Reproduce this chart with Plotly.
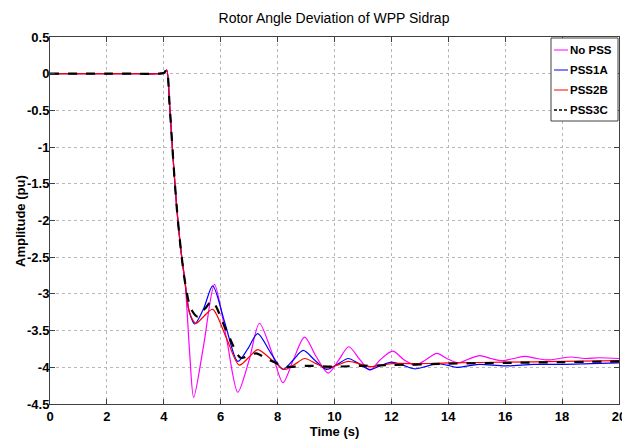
import plotly.graph_objects as go

# ---- data ----
t_nopss = [0, 1, 2, 3, 3.8, 4.0, 4.1, 4.2, 4.3, 4.45, 4.6, 4.75, 4.9, 5.05, 5.4, 5.78, 6.2, 6.6,
           7.0, 7.36, 7.8, 8.19, 8.55, 8.95, 9.35, 9.78, 10.15, 10.5, 10.9, 11.25, 11.6, 12.05,
           12.45, 12.85, 13.2, 13.6, 13.95, 14.35, 14.7, 15.1, 15.5, 15.9, 16.3, 16.7, 17.1,
           17.5, 17.9, 18.3, 18.8, 19.3, 20]
v_nopss = [0, 0, 0, 0, 0, 0.01, 0.05, -0.4, -1.0, -1.8, -2.4, -2.85, -3.75, -4.41, -3.7, -2.87,
           -3.6, -4.34, -3.9, -3.40, -3.8, -4.21, -3.9, -3.59, -3.85, -4.08, -3.9, -3.72, -3.9,
           -4.04, -3.9, -3.78, -3.9, -3.97, -3.9, -3.81, -3.88, -3.94, -3.89, -3.84, -3.88,
           -3.91, -3.88, -3.85, -3.88, -3.90, -3.88, -3.86, -3.88, -3.87, -3.88]

t_pss1a = [0, 1, 2, 3, 3.8, 4.0, 4.1, 4.2, 4.3, 4.45, 4.6, 4.75, 4.9, 5.09, 5.4, 5.72, 6.15,
           6.6, 6.95, 7.3, 7.75, 8.19, 8.55, 8.9, 9.3, 9.72, 10.1, 10.48, 10.85, 11.25, 11.6,
           12.0, 12.4, 12.8, 13.2, 13.6, 13.95, 14.3, 14.7, 15.1, 16.0, 17.0, 18.0, 19.0, 20]
v_pss1a = [0, 0, 0, 0, 0, 0.01, 0.05, -0.4, -1.0, -1.8, -2.4, -2.85, -3.25, -3.41, -3.2, -2.89,
           -3.4, -3.92, -3.75, -3.54, -3.8, -4.03, -3.9, -3.77, -3.9, -4.03, -3.96, -3.88,
           -3.95, -4.03, -3.98, -3.93, -3.97, -4.02, -3.99, -3.95, -3.97, -4.0, -3.98, -3.96,
           -3.98, -3.96, -3.96, -3.95, -3.94]

t_pss2b = [0, 1, 2, 3, 3.8, 4.0, 4.1, 4.2, 4.3, 4.45, 4.6, 4.75, 4.9, 5.13, 5.42, 5.72, 6.2,
           6.65, 7.0, 7.3, 7.8, 8.25, 8.6, 8.95, 9.35, 9.72, 10.1, 10.48, 10.85, 11.25, 12.0,
           13.0, 14.0, 16.0, 18.0, 20]
v_pss2b = [0, 0, 0, 0, 0, 0.01, 0.05, -0.4, -1.0, -1.8, -2.4, -2.85, -3.25, -3.40, -3.3, -3.21,
           -3.6, -3.97, -3.86, -3.76, -3.9, -4.03, -3.96, -3.88, -3.95, -4.01, -3.97, -3.92,
           -3.95, -3.99, -3.95, -3.95, -3.94, -3.93, -3.92, -3.91]

t_pss3c = [0, 1, 2, 3, 3.8, 4.0, 4.1, 4.2, 4.3, 4.45, 4.6, 4.75, 4.95, 5.19, 5.45, 5.7, 6.2,
           6.7, 7.0, 7.25, 7.7, 8.3, 9.0, 10.0, 11.0, 12.0, 14.0, 16.0, 18.0, 20]
v_pss3c = [0, 0, 0, 0, 0, 0.01, 0.05, -0.4, -1.0, -1.8, -2.4, -2.85, -3.2, -3.31, -3.2, -3.10,
           -3.5, -3.87, -3.84, -3.81, -3.9, -3.99, -3.98, -3.99, -3.98, -3.97, -3.95, -3.94,
           -3.93, -3.92]

x_ticks = list(range(0, 21, 2))
y_ticks = [0.5, 0, -0.5, -1, -1.5, -2, -2.5, -3, -3.5, -4, -4.5]
y_tick_labels = ["0.5", "0", "-0.5", "-1", "-1.5", "-2", "-2.5", "-3", "-3.5", "-4", "-4.5"]

names = ["No PSS", "PSS1A", "PSS2B", "PSS3C"]
colors = ["#ff00ff", "#0000ff", "#ff0000", "#000000"]
dashes = ["solid", "solid", "solid", "dash"]
widths = [1.2, 1.2, 1.2, 2.2]
times = [t_nopss, t_pss1a, t_pss2b, t_pss3c]
vals = [v_nopss, v_pss1a, v_pss2b, v_pss3c]

FONT = "Liberation Sans, Arial, sans-serif"
BOLD = dict(family=FONT, size=13, color="black", weight="bold")
LEG = dict(family=FONT, size=11.5, color="black", weight="bold")

# layout geometry (pixels)
W, H = 622, 441
L, R, T, B = 50, 3, 37, 37
PW, PH = W - L - R, H - T - B


def px_x(p):
    return (p - L) / PW


def px_y(p):
    return (H - B - p) / PH


fig = go.Figure()
for n, t, v, c, d, w in zip(names, times, vals, colors, dashes, widths):
    fig.add_trace(go.Scatter(x=t, y=v, mode="lines", name=n, showlegend=False,
                             line=dict(color=c, dash=d, width=w, shape="spline", smoothing=0.8)))

axis_common = dict(showline=True, linecolor="#404040", linewidth=1, mirror="allticks",
                   ticks="inside", ticklen=5, tickcolor="#404040",
                   showgrid=True, gridcolor="#b8b8b8", griddash="dot", gridwidth=1,
                   zeroline=False, ticklabeloverflow="allow", tickfont=BOLD)

shapes = []
annotations = []
# manual legend box
shapes.append(dict(type="rect", xref="paper", yref="paper",
                   x0=px_x(551), x1=px_x(618), y0=px_y(121), y1=px_y(38),
                   line=dict(color="#404040", width=1), fillcolor="white", layer="above"))
for i, (n, c, d) in enumerate(zip(names, colors, dashes)):
    yy = px_y(50 + 20 * i)
    shapes.append(dict(type="line", xref="paper", yref="paper",
                       x0=px_x(554), x1=px_x(568), y0=yy, y1=yy, layer="above",
                       line=dict(color=c, width=1.5 if d == "dash" else 1,
                                 dash="3px,2px" if d == "dash" else "solid")))
    annotations.append(dict(text=n, xref="paper", yref="paper", x=px_x(568), y=yy,
                            xanchor="left", yanchor="middle", showarrow=False, font=LEG))

# y-axis title
annotations.append(dict(text="Amplitude (pu)", xref="paper", yref="paper",
                        x=px_x(20), y=px_y(221), textangle=-90, xanchor="center",
                        yanchor="middle", showarrow=False, font=BOLD))

fig.update_layout(
    width=W, height=H,
    margin=dict(l=L, r=R, t=T, b=B, autoexpand=False),
    paper_bgcolor="white", plot_bgcolor="white",
    title=dict(text="Rotor Angle Deviation of WPP Sidrap", x=334 / W,
               xanchor="center", y=(H - 18) / H, yanchor="middle",
               font=dict(family=FONT, size=14, color="black")),
    xaxis=dict(range=[0, 20], tickvals=x_ticks,
               title=dict(text="Time (s)", standoff=2, font=BOLD),
               **axis_common),
    yaxis=dict(range=[-4.5, 0.5], tickvals=y_ticks, ticktext=y_tick_labels,
               ticklabelstandoff=-3, **axis_common),
    shapes=shapes, annotations=annotations,
    showlegend=False,
)

fig.write_html("out.html")
